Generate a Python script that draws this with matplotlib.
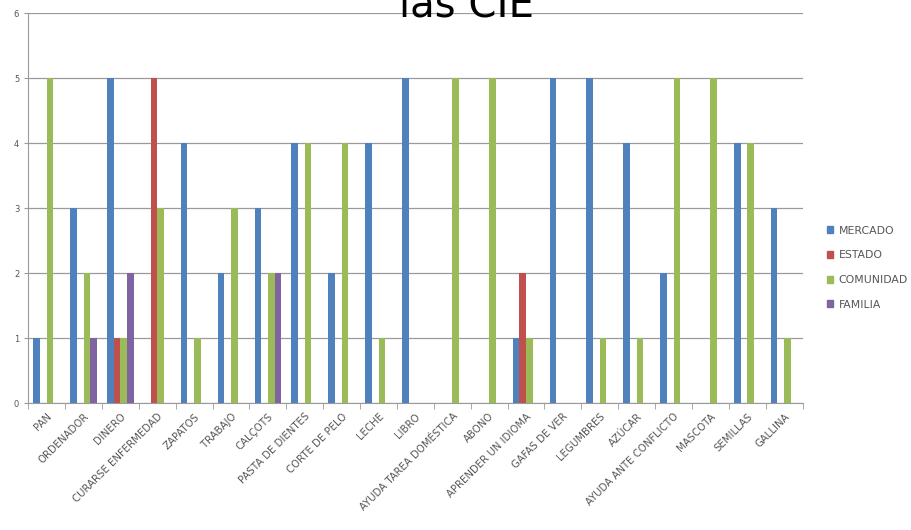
import numpy as np
import matplotlib.pyplot as plt
from matplotlib.patches import Patch

# data
categories = ["PAN", "ORDENADOR", "DINERO", "CURARSE ENFERMEDAD", "ZAPATOS",
              "TRABAJO", "CALÇOTS", "PASTA DE DIENTES", "CORTE DE PELO", "LECHE",
              "LIBRO", "AYUDA TAREA DOMÉSTICA", "ABONO", "APRENDER UN IDIOMA",
              "GAFAS DE VER", "LEGUMBRES", "AZÚCAR", "AYUDA ANTE CONFLICTO",
              "MASCOTA", "SEMILLAS", "GALLINA"]
mercado   = [1, 3, 5, 0, 4, 2, 3, 4, 2, 4, 5, 0, 0, 1, 5, 5, 4, 2, 0, 4, 3]
estado    = [0, 0, 1, 5, 0, 0, 0, 0, 0, 0, 0, 0, 0, 2, 0, 0, 0, 0, 0, 0, 0]
comunidad = [5, 2, 1, 3, 1, 3, 2, 4, 4, 1, 0, 5, 5, 1, 0, 1, 1, 5, 5, 4, 1]
familia   = [0, 1, 2, 0, 0, 0, 2, 0, 0, 0, 0, 0, 0, 0, 0, 0, 0, 0, 0, 0, 0]

series = [("MERCADO", mercado, "#4F81BD"),
          ("ESTADO", estado, "#C0504D"),
          ("COMUNIDAD", comunidad, "#9BBB59"),
          ("FAMILIA", familia, "#8064A2")]

fig = plt.figure(figsize=(9.11, 5.30), dpi=100)
ax = fig.add_axes([0.031, 0.2396, 0.85, 0.7354])

x = np.arange(len(categories))
w = 1 / 5.5
for i, (name, vals, col) in enumerate(series):
    ax.bar(x + (i - 1.5) * w, vals, width=w, color=col, label=name, zorder=3)

ax.set_xlim(-0.5, len(categories) - 0.5)
ax.set_ylim(0, 6)
ax.set_yticks(range(7))
ax.yaxis.grid(True, color="#9a9a9a", linewidth=0.9, zorder=0)
for s in ["top", "right"]:
    ax.spines[s].set_visible(False)
ax.spines["left"].set_color("#9a9a9a")
ax.spines["bottom"].set_color("#9a9a9a")
ax.tick_params(axis="y", labelsize=6, colors="#555555", length=3, color="#9a9a9a")

# category labels centred, ticks between categories
ax.set_xticks(x)
ax.set_xticklabels(categories, rotation=45, ha="right", rotation_mode="anchor",
                   fontsize=7.3, color="#555555")
ax.tick_params(axis="x", length=0, pad=6)
ax.set_xticks(np.arange(-0.5, len(categories)), minor=True)
ax.tick_params(axis="x", which="minor", length=4, color="#9a9a9a")

fig.text(0.512, 0.968, "las CIE", fontsize=29, ha="center", va="baseline")

handles = [Patch(color=c) for _, _, c in series]
fig.legend(handles, [n for n, _, _ in series], loc="center left",
           bbox_to_anchor=(0.897, 0.495), frameon=False, fontsize=7.8,
           handlelength=0.6, handleheight=0.6, handletextpad=0.5,
           labelspacing=1.35, labelcolor="#555555")

fig.savefig("out.png", dpi=100)
